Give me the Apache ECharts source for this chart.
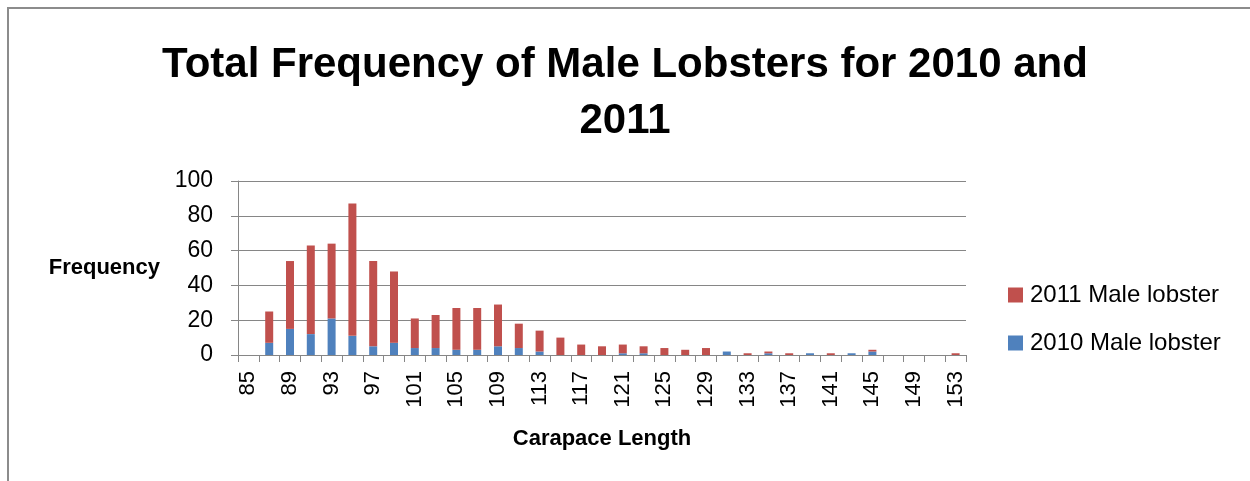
<!DOCTYPE html>
<html lang="en">
<head>
    <meta charset="UTF-8">
    <title>Male Lobsters</title>
    <style>
        body{ margin:0; background:#fff; }
        #box{ position:absolute; left:0; top:0; width:1250px; height:481px; }
        #frame{
            position:absolute; left:7px; top:7px; width:1250px; height:481px;
            border-left:2px solid #8c8c8c; border-top:2px solid #8c8c8c;
            pointer-events:none;
        }
    </style>
</head>
<body>
    <div id="box"></div>
    <div id="frame"></div>
    <script src="https://cdn.jsdelivr.net/npm/echarts@6/dist/echarts.min.js"></script>
    <script>
        // 横轴: 甲壳长度 (每2mm一组)
        var lengths = ['85','87','89','91','93','95','97','99','101','103','105','107',
            '109','111','113','115','117','119','121','123','125','127','129','131',
            '133','135','137','139','141','143','145','147','149','151','153'];
        // 2010 数量 (底部, 蓝色)
        var male2010 = [0,7,15,12,21,11,5,7,4,4,3,3,5,4,2,0,0,0,1,1,0,0,0,2,
            0,1,0,1,0,1,2,0,0,0,0];
        // 2011 数量 (叠在上面, 红色)
        var male2011 = [0,18,39,51,43,76,49,41,17,19,24,24,24,14,12,10,6,5,5,4,4,3,4,0,
            1,1,1,0,1,0,1,0,0,0,1];
        var yTicks = { min:0, max:100, interval:20 };

        var font = 'Liberation Sans, Arial, sans-serif';
        var myecharts = echarts.init(document.getElementById('box'));
        var option = {
            animation:false,
            textStyle:{ fontFamily:font },
            title:{
                text:'Total Frequency of Male Lobsters for 2010 and\n2011',
                left:'center',
                top:32,
                textStyle:{ fontSize:42, fontWeight:'bold', color:'#000', lineHeight:56, fontFamily:font }
            },
            legend:{
                orient:'vertical',
                left:1008,
                top:283,
                padding:0,
                icon:'rect',
                itemWidth:15,
                itemHeight:15,
                itemGap:24,
                data:['2011 Male lobster','2010 Male lobster'],
                textStyle:{ fontSize:24, color:'#000', padding:[0,0,0,2] }
            },
            grid:{ left:238, right:284, top:181, bottom:126 },
            xAxis:{
                type:'category',
                data:lengths,
                name:'Carapace Length',
                nameLocation:'middle',
                nameGap:73,
                nameTextStyle:{ fontSize:22, fontWeight:'bold', color:'#000', verticalAlign:'top' },
                axisLine:{ lineStyle:{ color:'#868686' } },
                axisTick:{ show:true, interval:0, length:7, lineStyle:{ color:'#868686' } },
                axisLabel:{ interval:1, rotate:90, fontSize:22, color:'#000', margin:16 }
            },
            yAxis:{
                type:'value',
                min:yTicks.min,
                max:yTicks.max,
                interval:yTicks.interval,
                name:'Frequency',
                nameLocation:'middle',
                nameRotate:0,
                nameGap:78,
                nameTextStyle:{ fontSize:22, fontWeight:'bold', color:'#000' },
                axisLine:{ show:true, lineStyle:{ color:'#868686' } },
                axisTick:{ show:true, length:7, lineStyle:{ color:'#868686' } },
                axisLabel:{ fontSize:23, color:'#000', margin:25 },
                splitLine:{ lineStyle:{ color:'#868686' } }
            },
            series:[
                {
                    name:'2010 Male lobster',
                    type:'bar',
                    stack:'all',
                    barWidth:8,
                    itemStyle:{ color:'#4F81BD' },
                    data:male2010
                },
                {
                    name:'2011 Male lobster',
                    type:'bar',
                    stack:'all',
                    barWidth:8,
                    itemStyle:{ color:'#C0504D' },
                    data:male2011
                }
            ]
        };
        myecharts.setOption(option);
    </script>
</body>
</html>
